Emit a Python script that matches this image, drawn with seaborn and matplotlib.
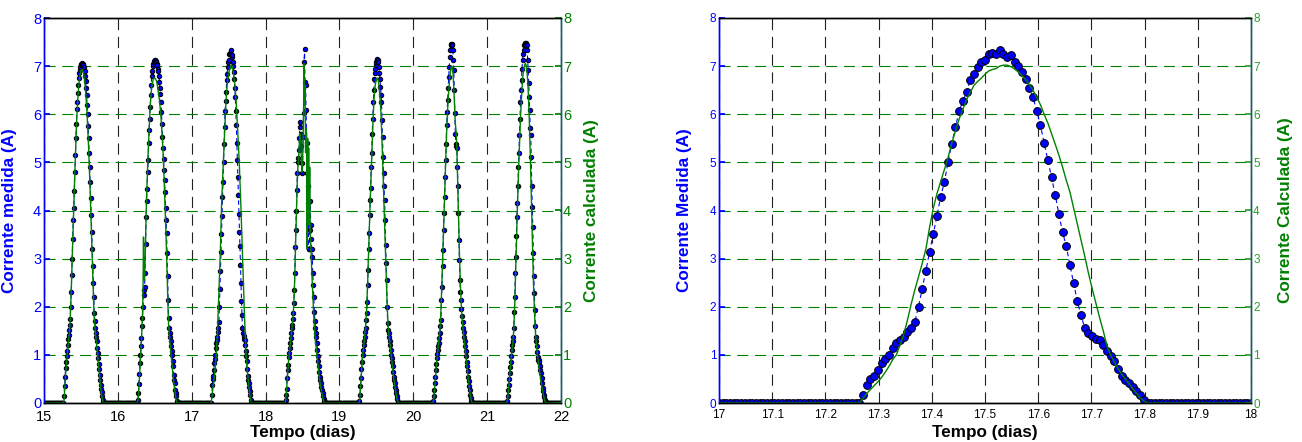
import numpy as np
import pandas as pd
import matplotlib
matplotlib.use("Agg")
import matplotlib.pyplot as plt
import seaborn as sns

# ---------------- data ----------------
# sampling: 10 min (1/144 day); daytime samples start at sample 39 of each day
amostras_por_dia = 144
primeira_amostra = 39
dias = [15, 16, 17, 18, 19, 20, 21]

medida_15 = [0.15,0.35,0.55,0.72,0.85,0.98,1.08,1.20,1.32,1.42,
             1.52,1.62,1.75,2.0,2.3,2.65,3.0,3.4,3.8,4.05,
             4.4,4.8,5.15,5.5,5.8,6.1,6.25,6.45,6.6,6.75,
             6.85,6.92,6.98,7.02,7.05,7.06,7.04,7.05,7.02,6.98,
             6.9,6.8,6.7,6.55,6.4,6.2,6.0,5.75,5.5,5.2,
             4.9,4.6,4.25,3.9,3.55,3.2,2.85,2.5,2.2,1.87,
             1.7,1.55,1.45,1.38,1.28,1.15,1.03,0.93,0.82,0.7,
             0.58,0.48,0.38,0.3,0.22,0.14,0.07]
medida_16 = [0.07,0.2,0.4,0.6,0.83,1.0,1.18,1.35,1.6,1.76,
             2.0,2.25,2.35,2.42,2.7,3.3,3.87,4.2,4.45,4.8,
             5.05,5.4,5.67,5.9,6.15,6.4,6.6,6.8,6.9,7.0,
             7.05,7.08,7.1,7.12,7.12,7.1,7.08,7.05,7.02,6.95,
             6.9,6.8,6.67,6.55,6.43,6.25,6.05,5.8,5.53,5.3,
             5.08,4.85,4.63,4.39,4.05,3.8,3.53,3.11,2.63,2.14,
             1.76,1.56,1.45,1.38,1.28,1.18,1.08,1.0,0.88,0.76,
             0.59,0.48,0.41,0.28,0.2,0.14,0.05]
medida_17 = [0.17,0.37,0.50,0.57,0.68,0.83,0.92,1.00,1.14,1.24,
             1.30,1.37,1.47,1.56,1.69,2.00,2.37,2.75,3.14,3.51,
             3.89,4.29,4.59,5.01,5.39,5.73,6.07,6.27,6.47,6.71,
             6.83,6.98,7.09,7.12,7.26,7.28,7.26,7.33,7.26,7.19,
             7.23,7.09,7.00,6.88,6.74,6.55,6.35,6.07,5.77,5.41,
             5.05,4.69,4.33,3.92,3.55,3.26,2.86,2.49,2.11,1.82,
             1.56,1.45,1.40,1.33,1.31,1.21,1.09,0.98,0.88,0.71,
             0.57,0.48,0.41,0.33,0.24,0.16,0.07]
medida_18 = [0.07,0.17,0.3,0.52,0.68,0.8,0.95,1.04,1.15,1.25,
             1.35,1.45,1.55,1.63,1.75,1.87,2.07,2.35,2.7,3.25,
             3.6,4.0,4.43,4.77,5.0,5.1,5.26,5.5,5.84,5.74,
             5.6,5.33,4.98,4.77,5.53,6.02,7.09,7.36,6.67,6.6,
             6.08,5.4,4.77,4.5,4.15,3.2,3.2,3.6,4.2,3.7,
             3.4,3.2,3.04,2.7,2.45,2.2,1.9,1.7,1.56,1.45,
             1.38,1.25,1.1,0.97,0.88,0.76,0.65,0.55,0.48,0.41,
             0.34,0.28,0.21,0.14,0.09,0.05,0.03]
medida_19 = [0.05,0.17,0.35,0.52,0.7,0.86,1.0,1.1,1.2,1.28,
             1.38,1.47,1.56,1.72,1.87,2.1,2.45,2.77,3.2,3.53,
             3.9,4.22,4.46,4.91,5.19,5.6,5.91,6.26,6.5,6.74,
             6.85,6.95,7.02,7.08,7.12,7.14,7.12,7.09,6.98,6.85,
             6.74,6.57,6.4,6.26,5.88,5.53,5.12,4.77,4.5,4.22,
             3.8,3.28,2.9,2.56,2.0,1.66,1.52,1.45,1.38,1.28,
             1.2,1.1,1.0,0.93,0.85,0.76,0.65,0.55,0.48,0.41,
             0.34,0.28,0.21,0.14,0.08,0.03,0.01]
medida_20 = [0.05,0.14,0.28,0.41,0.55,0.69,0.82,0.93,1.02,1.1,
             1.18,1.25,1.35,1.45,1.6,1.73,2.14,2.42,2.84,3.18,
             3.6,3.94,4.29,4.7,5.05,5.39,5.77,6.05,6.29,6.54,
             6.78,6.98,7.19,7.33,7.43,7.47,7.45,7.43,7.33,7.12,
             6.92,6.5,6.02,5.6,5.39,5.33,5.29,4.91,4.5,3.94,
             3.39,2.97,2.56,2.3,2.14,1.95,1.8,1.68,1.56,1.47,
             1.38,1.28,1.18,1.08,0.97,0.86,0.76,0.66,0.55,0.45,
             0.35,0.26,0.17,0.1,0.05,0.03,0.01]
medida_21 = [0.05,0.14,0.26,0.38,0.5,0.62,0.74,0.86,0.98,1.1,
             1.2,1.28,1.38,1.56,1.9,2.21,2.7,3.04,3.46,3.87,
             4.15,4.5,4.91,5.19,5.57,5.91,6.26,6.5,6.71,6.95,
             7.12,7.25,7.33,7.43,7.46,7.48,7.48,7.46,7.43,7.33,
             7.12,6.92,6.64,6.36,6.09,5.71,5.57,5.12,4.5,4.08,
             3.66,3.11,2.63,2.28,1.94,1.59,1.38,1.28,1.18,1.05,
             0.95,0.9,0.9,0.85,0.76,0.68,0.62,0.52,0.41,0.31,
             0.24,0.17,0.12,0.07,0.04,0.02,0.01]

calculada_15 = [0.05,0.2,0.4,0.58,0.72,0.85,0.97,1.08,1.2,1.3,
                1.42,1.55,1.72,1.98,2.28,2.62,2.98,3.35,3.72,4.05,
                4.4,4.75,5.08,5.4,5.68,5.95,6.15,6.32,6.48,6.6,
                6.72,6.8,6.86,6.9,6.92,6.93,6.92,6.9,6.86,6.8,
                6.72,6.62,6.5,6.35,6.18,6.0,5.78,5.55,5.3,5.02,
                4.72,4.4,4.05,3.7,3.35,3.0,2.65,2.3,2.0,1.75,
                1.58,1.47,1.38,1.28,1.17,1.05,0.93,0.82,0.7,0.58,
                0.47,0.37,0.28,0.2,0.12,0.06,0.02]
calculada_16 = [0.05,0.15,0.3,0.5,0.7,0.9,1.1,1.3,1.55,1.8,
                2.3,3.45,2.6,2.55,2.9,3.4,3.9,4.3,4.6,4.9,
                5.2,5.45,5.7,5.95,6.15,6.3,6.45,6.55,6.62,6.68,
                6.72,6.74,6.75,6.75,6.74,6.72,6.7,6.66,6.6,6.52,
                6.45,6.38,6.3,6.2,6.08,5.95,5.8,5.62,5.45,5.25,
                5.0,4.7,4.4,4.1,3.8,3.45,3.1,2.7,2.3,1.9,
                1.6,1.45,1.33,1.22,1.1,0.98,0.86,0.74,0.62,0.52,
                0.42,0.33,0.25,0.17,0.1,0.05,0.01]
calculada_17 = [0.1,0.2,0.28,0.36,0.44,0.53,0.64,0.76,0.9,1.0,
                1.2,1.42,1.72,2.05,2.35,2.62,2.9,3.2,3.65,4.05,
                4.35,4.6,4.85,5.1,5.4,5.65,5.9,6.1,6.3,6.45,
                6.6,6.68,6.75,6.83,6.9,6.93,6.95,7.0,7.02,7.02,
                6.99,6.94,6.88,6.81,6.72,6.62,6.5,6.35,6.2,6.0,
                5.82,5.6,5.38,5.15,4.9,4.63,4.38,4.05,3.72,3.38,
                3.05,2.7,2.38,2.08,1.78,1.5,1.2,1.0,0.85,0.72,
                0.6,0.5,0.4,0.3,0.2,0.11,0.04]
calculada_18 = [0.05,0.15,0.28,0.45,0.6,0.75,0.9,1.0,1.1,1.2,
                1.3,1.4,1.5,1.6,1.72,1.85,2.05,2.3,2.65,3.1,
                3.5,3.9,4.3,4.65,4.9,5.0,5.2,5.45,5.6,5.5,
                5.3,5.05,4.8,4.95,5.4,6.0,7.05,6.2,6.6,5.2,
                5.7,5.6,3.2,5.5,4.0,5.3,3.7,4.9,3.6,3.3,
                3.0,2.75,2.5,2.25,2.0,1.8,1.6,1.45,1.3,1.2,
                1.1,1.0,0.9,0.8,0.7,0.6,0.52,0.44,0.37,0.3,
                0.24,0.18,0.13,0.08,0.05,0.02,0.0]
calculada_19 = [0.03,0.12,0.28,0.45,0.62,0.8,0.95,1.06,1.17,1.27,
                1.37,1.47,1.58,1.75,1.95,2.2,2.5,2.85,3.2,3.55,
                3.9,4.2,4.5,4.85,5.15,5.45,5.75,6.0,6.2,6.4,
                6.52,6.62,6.68,6.72,6.75,6.75,6.73,6.68,6.6,6.48,
                6.35,6.2,6.0,5.75,5.45,5.12,4.8,4.45,4.1,3.75,
                3.4,3.05,2.7,2.35,2.05,1.8,1.6,1.48,1.38,1.28,
                1.18,1.08,0.98,0.88,0.78,0.68,0.58,0.5,0.42,0.35,
                0.28,0.22,0.16,0.1,0.06,0.03,0.01]
calculada_20 = [0.03,0.1,0.22,0.36,0.5,0.64,0.78,0.9,1.0,1.1,
                1.2,1.3,1.42,1.55,1.72,1.95,2.25,2.58,2.92,3.28,
                3.62,3.97,4.32,4.68,5.0,5.32,5.62,5.88,6.1,6.3,
                6.48,6.62,6.75,6.85,6.93,6.98,7.0,6.98,6.9,6.75,
                6.55,6.3,6.02,5.8,5.7,5.55,5.25,4.85,4.4,3.95,
                3.5,3.1,2.72,2.4,2.15,1.95,1.78,1.64,1.52,1.42,
                1.32,1.22,1.12,1.02,0.92,0.82,0.72,0.62,0.52,0.43,
                0.34,0.26,0.18,0.11,0.06,0.02,0.0]
calculada_21 = [0.03,0.1,0.2,0.32,0.45,0.58,0.7,0.82,0.94,1.05,
                1.15,1.25,1.38,1.55,1.8,2.1,2.5,2.9,3.3,3.7,
                4.05,4.4,4.75,5.05,5.35,5.65,5.92,6.15,6.35,6.55,
                6.7,6.82,6.92,6.98,7.02,7.05,7.05,7.02,6.95,6.85,
                6.7,6.5,6.25,5.95,5.6,5.2,4.8,4.35,3.9,3.45,
                3.0,2.6,2.25,1.95,1.7,1.5,1.35,1.22,1.1,1.0,
                0.9,0.82,0.75,0.68,0.6,0.52,0.45,0.38,0.31,0.25,
                0.2,0.15,0.1,0.06,0.03,0.01,0.0]

medidas = [medida_15, medida_16, medida_17, medida_18, medida_19, medida_20, medida_21]
calculadas = [calculada_15, calculada_16, calculada_17, calculada_18, calculada_19, calculada_20, calculada_21]

ticks_x_esq = [15, 16, 17, 18, 19, 20, 21, 22]
ticks_x_dir = [17, 17.1, 17.2, 17.3, 17.4, 17.5, 17.6, 17.7, 17.8, 17.9, 18]
rotulos_x_dir = ["17", "17.1", "17.2", "17.3", "17.4", "17.5", "17.6", "17.7", "17.8", "17.9", "18"]
ticks_y = [0, 1, 2, 3, 4, 5, 6, 7, 8]


def serie_dia(dia, valores):
    """Samples of one day: zeros at night, read values during the day."""
    v = np.zeros(amostras_por_dia)
    v[primeira_amostra:primeira_amostra + len(valores)] = valores
    t = dia + np.arange(amostras_por_dia) / amostras_por_dia
    return t, v


def montar(lista_dias, lista_med, lista_calc, fim):
    ts, ms, cs = [], [], []
    for d, m, c in zip(lista_dias, lista_med, lista_calc):
        t, vm = serie_dia(d, m)
        _, vc = serie_dia(d, c)
        ts.append(t); ms.append(vm); cs.append(vc)
    ts.append([fim]); ms.append([0.0]); cs.append([0.0])
    return pd.DataFrame({"tempo": np.concatenate(ts),
                         "medida": np.concatenate(ms),
                         "calculada": np.concatenate(cs)})


df_semana = montar(dias, medidas, calculadas, 22)
df_dia = montar([17], [medida_17], [calculada_17], 18)

# ---------------- style ----------------
sns.set_theme(style="white")
plt.rcParams["font.family"] = ["Liberation Sans", "DejaVu Sans"]

AZUL = "#0000FF"
VERDE = "#008000"
VERDE_CLARO = "#2E9E2E"
TEAL = "#1A5A6A"

fig = plt.figure(figsize=(13.02, 4.42), dpi=100)
W, H = 1302, 442
ax_esq = fig.add_axes([44 / W, (H - 403) / H, 517 / W, 385 / H])
ax_dir = fig.add_axes([719 / W, (H - 403) / H, 532 / W, 385 / H])


def estilizar(ax, ax2, xlim, xticks, xlabels, tick_fs, xpad, lab_med, lab_calc, ypos_l, ypos_r, cor_tick_dir):
    ax.set_xlim(*xlim)
    ax.set_ylim(0, 8)
    ax2.set_ylim(0, 8)
    ax.set_xticks(xticks)
    ax.set_xticklabels(xlabels)
    ax.set_yticks(ticks_y)
    ax.set_yticklabels([str(v) for v in ticks_y])
    ax2.set_yticks(ticks_y)
    ax2.set_yticklabels([str(v) for v in ticks_y])
    ax.grid(False)
    ax2.grid(False)
    ax.xaxis.grid(True, color="#222222", linestyle=(0, (10, 6)), linewidth=0.8)
    ax.yaxis.grid(True, color=VERDE, linestyle=(0, (10, 6)), linewidth=0.8)
    ax.set_axisbelow(True)
    ax.tick_params(axis="x", direction="in", length=4, colors="black", labelsize=tick_fs, pad=xpad)
    ax.tick_params(axis="y", direction="in", length=4, colors=AZUL, labelsize=tick_fs, pad=2)
    ax2.tick_params(axis="y", direction="in", length=4, colors=cor_tick_dir, labelsize=tick_fs, pad=1.5)
    for a in (ax, ax2):
        a.spines["bottom"].set_color("black")
        a.spines["top"].set_color("black")
        a.spines["left"].set_color(AZUL)
        a.spines["right"].set_color(TEAL)
        for s in a.spines.values():
            s.set_linewidth(1.0)
    ax.set_xlabel("Tempo (dias)", fontsize=12.3, fontweight="bold", color="black")
    ax.xaxis.set_label_coords(0.5, -0.058)
    ax.set_ylabel(lab_med, fontsize=12.3, fontweight="bold", color=AZUL)
    ax.yaxis.set_label_coords(ypos_l, 0.5)
    ax2.set_ylabel(lab_calc, fontsize=12.3, fontweight="bold", color=VERDE, rotation=90)
    ax2.yaxis.set_label_coords(ypos_r, 0.5)


# ---------------- left panel ----------------
sns.lineplot(data=df_semana, x="tempo", y="medida", ax=ax_esq, color=AZUL,
             linestyle=(0, (4, 3)), linewidth=0.8, marker="o", markersize=3.2,
             markerfacecolor=AZUL, markeredgecolor="black", markeredgewidth=0.7,
             estimator=None, sort=False)
ax_esq2 = ax_esq.twinx()
sns.lineplot(data=df_semana, x="tempo", y="calculada", ax=ax_esq2, color=VERDE,
             linewidth=1.0, estimator=None, sort=False)
estilizar(ax_esq, ax_esq2, (15, 22), ticks_x_esq, [str(v) for v in ticks_x_esq], 10.5, 5.2,
          "Corrente medida (A)", "Corrente calculada (A)", -0.052, 1.045, VERDE)

# ---------------- right panel ----------------
sns.lineplot(data=df_dia, x="tempo", y="medida", ax=ax_dir, color=AZUL,
             linestyle=(0, (4, 3)), linewidth=0.8, marker="o", markersize=5.6,
             markerfacecolor=AZUL, markeredgecolor="black", markeredgewidth=0.7,
             estimator=None, sort=False)
ax_dir2 = ax_dir.twinx()
sns.lineplot(data=df_dia, x="tempo", y="calculada", ax=ax_dir2, color=VERDE,
             linewidth=1.0, estimator=None, sort=False)
estilizar(ax_dir, ax_dir2, (17, 18), ticks_x_dir, rotulos_x_dir, 8.5, 4,
          "Corrente Medida (A)", "Corrente Calculada (A)", -0.051, 1.051, VERDE_CLARO)

fig.savefig("out.png", dpi=100)
